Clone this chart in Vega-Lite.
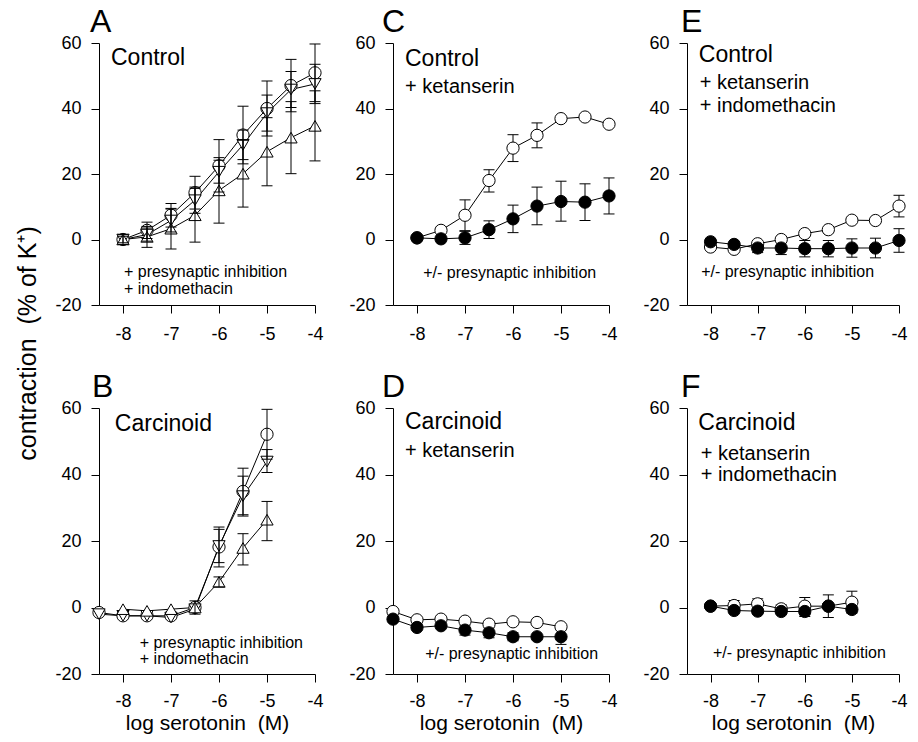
{
"$schema": "https://vega.github.io/schema/vega-lite/v6.json",
"background": "white",
"padding": {"left": 15, "top": 6, "right": 5, "bottom": 1},
"datasets": {
"pts": [
{"p":"A","s":"circle","x":-8,"y":0,"lo":-1.5,"hi":1.5},
{"p":"A","s":"circle","x":-7.5,"y":2.8,"lo":0.3,"hi":5.3},
{"p":"A","s":"circle","x":-7,"y":7.4,"lo":3.8,"hi":11},
{"p":"A","s":"circle","x":-6.5,"y":14.3,"lo":9.3,"hi":19.3},
{"p":"A","s":"circle","x":-6,"y":22.5,"lo":14.5,"hi":30.5},
{"p":"A","s":"circle","x":-5.5,"y":31.9,"lo":23.1,"hi":40.7},
{"p":"A","s":"circle","x":-5,"y":40,"lo":31.6,"hi":48.4},
{"p":"A","s":"circle","x":-4.5,"y":47,"lo":39,"hi":55},
{"p":"A","s":"circle","x":-4,"y":50.9,"lo":42.1,"hi":59.7},
{"p":"A","s":"down","x":-8,"y":0},
{"p":"A","s":"down","x":-7.5,"y":1.5,"lo":-0.5,"hi":3.5},
{"p":"A","s":"down","x":-7,"y":5.8,"lo":2.3,"hi":9.3},
{"p":"A","s":"down","x":-6.5,"y":12,"lo":8,"hi":16},
{"p":"A","s":"down","x":-6,"y":20.7,"lo":17.2,"hi":24.2},
{"p":"A","s":"down","x":-5.5,"y":28.9,"lo":24.4,"hi":33.4},
{"p":"A","s":"down","x":-5,"y":38.6,"lo":33.1,"hi":44.1},
{"p":"A","s":"down","x":-4.5,"y":45.8,"lo":40.3,"hi":51.3},
{"p":"A","s":"down","x":-4,"y":47.5,"lo":41.5,"hi":53.5},
{"p":"A","s":"up","x":-8,"y":0,"lo":-1,"hi":1},
{"p":"A","s":"up","x":-7.5,"y":0.8,"lo":-2.4,"hi":4},
{"p":"A","s":"up","x":-7,"y":3.3,"lo":-2.9,"hi":9.5},
{"p":"A","s":"up","x":-6.5,"y":7.4,"lo":-0.8,"hi":15.6},
{"p":"A","s":"up","x":-6,"y":15,"lo":5,"hi":25},
{"p":"A","s":"up","x":-5.5,"y":20.1,"lo":9.9,"hi":30.3},
{"p":"A","s":"up","x":-5,"y":26.8,"lo":16.4,"hi":37.2},
{"p":"A","s":"up","x":-4.5,"y":31.1,"lo":20.1,"hi":42.1},
{"p":"A","s":"up","x":-4,"y":34.7,"lo":24,"hi":45.4},
{"p":"B","s":"circle","x":-8.5,"y":-1.5},
{"p":"B","s":"circle","x":-8,"y":-2.5},
{"p":"B","s":"circle","x":-7.5,"y":-2.5},
{"p":"B","s":"circle","x":-7,"y":-2.5},
{"p":"B","s":"circle","x":-6.5,"y":0,"lo":-2,"hi":2},
{"p":"B","s":"circle","x":-6,"y":18.2,"lo":12.2,"hi":24.2},
{"p":"B","s":"circle","x":-5.5,"y":34.9,"lo":27.9,"hi":41.9},
{"p":"B","s":"circle","x":-5,"y":52.1,"lo":44.6,"hi":59.6},
{"p":"B","s":"down","x":-8.5,"y":-2},
{"p":"B","s":"down","x":-8,"y":-2.5},
{"p":"B","s":"down","x":-7.5,"y":-2.5},
{"p":"B","s":"down","x":-7,"y":-3},
{"p":"B","s":"down","x":-6.5,"y":-0.5},
{"p":"B","s":"down","x":-6,"y":18.5,"lo":13.5,"hi":23.5},
{"p":"B","s":"down","x":-5.5,"y":33.5,"lo":27.5,"hi":39.5},
{"p":"B","s":"down","x":-5,"y":43.9,"lo":40.6,"hi":47.5},
{"p":"B","s":"up","x":-8,"y":-0.5},
{"p":"B","s":"up","x":-7.5,"y":-1},
{"p":"B","s":"up","x":-7,"y":-0.5},
{"p":"B","s":"up","x":-6.5,"y":0},
{"p":"B","s":"up","x":-6,"y":7.7,"lo":6.2,"hi":9.2},
{"p":"B","s":"up","x":-5.5,"y":17.9,"lo":12.8,"hi":22.2},
{"p":"B","s":"up","x":-5,"y":26.4,"lo":20.1,"hi":31.9},
{"p":"C","s":"open","x":-8,"y":0.5},
{"p":"C","s":"open","x":-7.5,"y":2.8},
{"p":"C","s":"open","x":-7,"y":7.4,"lo":2.7,"hi":12.1},
{"p":"C","s":"open","x":-6.5,"y":18,"lo":14.5,"hi":21.3},
{"p":"C","s":"open","x":-6,"y":27.9,"lo":23.8,"hi":32},
{"p":"C","s":"open","x":-5.5,"y":31.8,"lo":28,"hi":35.6},
{"p":"C","s":"open","x":-5,"y":36.9},
{"p":"C","s":"open","x":-4.5,"y":37.4},
{"p":"C","s":"open","x":-4,"y":35.2},
{"p":"C","s":"filled","x":-8,"y":0.5},
{"p":"C","s":"filled","x":-7.5,"y":0.2},
{"p":"C","s":"filled","x":-7,"y":0.5,"lo":-1.5,"hi":2.5},
{"p":"C","s":"filled","x":-6.5,"y":3,"lo":0.3,"hi":5.7},
{"p":"C","s":"filled","x":-6,"y":6.3,"lo":2.1,"hi":10.5},
{"p":"C","s":"filled","x":-5.5,"y":10.2,"lo":4.5,"hi":16},
{"p":"C","s":"filled","x":-5,"y":11.6,"lo":5.6,"hi":17.8},
{"p":"C","s":"filled","x":-4.5,"y":11.4,"lo":5.8,"hi":17},
{"p":"C","s":"filled","x":-4,"y":13.3,"lo":7.8,"hi":18.8},
{"p":"D","s":"open","x":-8.5,"y":-1.2},
{"p":"D","s":"open","x":-8,"y":-3.7},
{"p":"D","s":"open","x":-7.5,"y":-3.5},
{"p":"D","s":"open","x":-7,"y":-4.1},
{"p":"D","s":"open","x":-6.5,"y":-5},
{"p":"D","s":"open","x":-6,"y":-4.3},
{"p":"D","s":"open","x":-5.5,"y":-4.5},
{"p":"D","s":"open","x":-5,"y":-5.8},
{"p":"D","s":"filled","x":-8.5,"y":-3.5},
{"p":"D","s":"filled","x":-8,"y":-6},
{"p":"D","s":"filled","x":-7.5,"y":-5.5},
{"p":"D","s":"filled","x":-7,"y":-6.8,"lo":-8.3,"hi":-5.3},
{"p":"D","s":"filled","x":-6.5,"y":-7.6,"lo":-9.1,"hi":-6.1},
{"p":"D","s":"filled","x":-6,"y":-8.8,"lo":-10,"hi":-7.6},
{"p":"D","s":"filled","x":-5.5,"y":-8.8},
{"p":"D","s":"filled","x":-5,"y":-8.8,"lo":-11.1,"hi":-6.5},
{"p":"E","s":"open","x":-8,"y":-2.3},
{"p":"E","s":"open","x":-7.5,"y":-3},
{"p":"E","s":"open","x":-7,"y":-1.3},
{"p":"E","s":"open","x":-6.5,"y":0},
{"p":"E","s":"open","x":-6,"y":1.8},
{"p":"E","s":"open","x":-5.5,"y":3},
{"p":"E","s":"open","x":-5,"y":5.9},
{"p":"E","s":"open","x":-4.5,"y":5.8},
{"p":"E","s":"open","x":-4,"y":10.2,"lo":6.9,"hi":13.5},
{"p":"E","s":"filled","x":-8,"y":-0.7},
{"p":"E","s":"filled","x":-7.5,"y":-1.5},
{"p":"E","s":"filled","x":-7,"y":-2.6,"lo":-4,"hi":-1.2},
{"p":"E","s":"filled","x":-6.5,"y":-2.6,"lo":-4.6,"hi":-0.6},
{"p":"E","s":"filled","x":-6,"y":-2.8,"lo":-5.3,"hi":-0.3},
{"p":"E","s":"filled","x":-5.5,"y":-2.8,"lo":-5.3,"hi":-0.3},
{"p":"E","s":"filled","x":-5,"y":-2.6,"lo":-5.4,"hi":0.2},
{"p":"E","s":"filled","x":-4.5,"y":-2.6,"lo":-5.6,"hi":0.4},
{"p":"E","s":"filled","x":-4,"y":-0.3,"lo":-3.9,"hi":3.3},
{"p":"F","s":"open","x":-8,"y":0.4},
{"p":"F","s":"open","x":-7.5,"y":0.6,"lo":-0.9,"hi":2.1},
{"p":"F","s":"open","x":-7,"y":1.1,"lo":-0.4,"hi":2.6},
{"p":"F","s":"open","x":-6.5,"y":-0.4,"lo":-1.6,"hi":0.8},
{"p":"F","s":"open","x":-6,"y":0.4,"lo":-2.2,"hi":3},
{"p":"F","s":"open","x":-5.5,"y":0.4},
{"p":"F","s":"open","x":-5,"y":1.6,"lo":-1.7,"hi":4.9},
{"p":"F","s":"filled","x":-8,"y":0.4},
{"p":"F","s":"filled","x":-7.5,"y":-0.9},
{"p":"F","s":"filled","x":-7,"y":-1.1},
{"p":"F","s":"filled","x":-6.5,"y":-1.2},
{"p":"F","s":"filled","x":-6,"y":-1.2,"lo":-2.7,"hi":0.3},
{"p":"F","s":"filled","x":-5.5,"y":0.4,"lo":-3,"hi":3.8},
{"p":"F","s":"filled","x":-5,"y":-0.6}
],
"ann": [
{"p":"A","k":"head","x":-8.25,"y":53.3,"t":"Control"},
{"p":"A","k":"note","x":-7.98,"y":-11.4,"t":"+ presynaptic inhibition"},
{"p":"A","k":"note","x":-7.98,"y":-16.6,"t":"+ indomethacin"},
{"p":"B","k":"head","x":-8.17,"y":53.1,"t":"Carcinoid"},
{"p":"B","k":"note","x":-7.65,"y":-12.2,"t":"+ presynaptic inhibition"},
{"p":"B","k":"note","x":-7.65,"y":-17,"t":"+ indomethacin"},
{"p":"C","k":"head","x":-8.25,"y":53,"t":"Control"},
{"p":"C","k":"sub","x":-8.25,"y":44.8,"t":"+ ketanserin"},
{"p":"C","k":"note","x":-7.87,"y":-11.8,"t":"+/- presynaptic inhibition"},
{"p":"D","k":"head","x":-8.25,"y":53.7,"t":"Carcinoid"},
{"p":"D","k":"sub","x":-8.25,"y":45.2,"t":"+ ketanserin"},
{"p":"D","k":"note","x":-7.83,"y":-15.5,"t":"+/- presynaptic inhibition"},
{"p":"E","k":"head","x":-8.25,"y":54.3,"t":"Control"},
{"p":"E","k":"sub","x":-8.23,"y":46,"t":"+ ketanserin"},
{"p":"E","k":"sub","x":-8.23,"y":39,"t":"+ indomethacin"},
{"p":"E","k":"note","x":-8.2,"y":-11.3,"t":"+/- presynaptic inhibition"},
{"p":"F","k":"head","x":-8.26,"y":53.4,"t":"Carcinoid"},
{"p":"F","k":"sub","x":-8.21,"y":44.4,"t":"+ ketanserin"},
{"p":"F","k":"sub","x":-8.21,"y":37.9,"t":"+ indomethacin"},
{"p":"F","k":"note","x":-7.95,"y":-15.3,"t":"+/- presynaptic inhibition"}
]
},
"columns": 3,
"spacing": {"row": 103, "column": 78},
"bounds": "flush",
"concat": [
{
"width": 216, "height": 262,
"title": {"text": "A", "dx": -9},
"encoding": {
"x": {"field":"x","type":"quantitative","scale":{"domain":[-8.5,-4],"nice":false,"zero":false},"axis":{"values":[-8,-7,-6,-5,-4],"labelExpr":"'' + datum.value","title":null,"labelPadding":12}},
"y": {"field":"y","type":"quantitative","scale":{"domain":[-20,60],"nice":false,"zero":false},"axis":{"values":[-20,0,20,40,60],"labelExpr":"'' + datum.value","title":"contraction \u00a0(% of K\u207a)","titleX":-64,"titleY":300,"titleAlign":"center","titleBaseline":"alphabetic","titleAngle":270}}
},
"layer": [
{"data":{"name":"pts"},"transform":[{"filter":"datum.p === 'A'"}],"mark":{"type":"line","color":"black","strokeWidth":1},"encoding":{"detail":{"field":"s"}}},
{"data":{"name":"pts"},"transform":[{"filter":"datum.p === 'A'"}],"mark":{"type":"point","filled":true,"size":150,"stroke":"black","strokeWidth":1,"opacity":1},"encoding":{"shape":{"field":"s","scale":{"domain":["circle","down","up","open","filled"],"range":["circle","triangle-down","triangle-up","circle","circle"]},"legend":null},"fill":{"field":"s","scale":{"domain":["circle","down","up","open","filled"],"range":["white","white","white","white","black"]},"legend":null}}},
{"data":{"name":"pts"},"transform":[{"filter":"datum.p === 'A' && isValid(datum.lo)"}],"mark":{"type":"rule","color":"black","strokeWidth":1},"encoding":{"y":{"field":"lo","type":"quantitative","axis":{"values":[-20,0,20,40,60],"labelExpr":"'' + datum.value","title":"contraction \u00a0(% of K\u207a)","titleX":-64,"titleY":300,"titleAlign":"center","titleBaseline":"alphabetic","titleAngle":270}},"y2":{"field":"hi"}}},
{"data":{"name":"pts"},"transform":[{"filter":"datum.p === 'A' && isValid(datum.lo)"}],"mark":{"type":"tick","orient":"horizontal","size":11,"thickness":1,"color":"black","opacity":1},"encoding":{"y":{"field":"hi","type":"quantitative","axis":{"values":[-20,0,20,40,60],"labelExpr":"'' + datum.value","title":"contraction \u00a0(% of K\u207a)","titleX":-64,"titleY":300,"titleAlign":"center","titleBaseline":"alphabetic","titleAngle":270}}}},
{"data":{"name":"pts"},"transform":[{"filter":"datum.p === 'A' && isValid(datum.lo)"}],"mark":{"type":"tick","orient":"horizontal","size":11,"thickness":1,"color":"black","opacity":1},"encoding":{"y":{"field":"lo","type":"quantitative","axis":{"values":[-20,0,20,40,60],"labelExpr":"'' + datum.value","title":"contraction \u00a0(% of K\u207a)","titleX":-64,"titleY":300,"titleAlign":"center","titleBaseline":"alphabetic","titleAngle":270}}}},
{"data":{"name":"ann"},"transform":[{"filter":"datum.p === 'A' && datum.k === 'head'"}],"mark":{"type":"text","align":"left","baseline":"alphabetic","fontSize":23,"color":"black"},"encoding":{"text":{"field":"t"}}},
{"data":{"name":"ann"},"transform":[{"filter":"datum.p === 'A' && datum.k === 'note'"}],"mark":{"type":"text","align":"left","baseline":"alphabetic","fontSize":16,"color":"black"},"encoding":{"text":{"field":"t"}}}
]
},
{
"width": 216, "height": 262,
"title": {"text": "C", "dx": -11},
"encoding": {
"x": {"field":"x","type":"quantitative","scale":{"domain":[-8.5,-4],"nice":false,"zero":false},"axis":{"values":[-8,-7,-6,-5,-4],"labelExpr":"'' + datum.value","title":null,"labelPadding":12}},
"y": {"field":"y","type":"quantitative","scale":{"domain":[-20,60],"nice":false,"zero":false},"axis":{"values":[-20,0,20,40,60],"labelExpr":"'' + datum.value","title":null}}
},
"layer": [
{"data":{"name":"pts"},"transform":[{"filter":"datum.p === 'C'"}],"mark":{"type":"line","color":"black","strokeWidth":1},"encoding":{"detail":{"field":"s"}}},
{"data":{"name":"pts"},"transform":[{"filter":"datum.p === 'C' && isValid(datum.lo)"}],"mark":{"type":"rule","color":"black","strokeWidth":1},"encoding":{"y":{"field":"lo","type":"quantitative","axis":{"values":[-20,0,20,40,60],"labelExpr":"'' + datum.value","title":null}},"y2":{"field":"hi"}}},
{"data":{"name":"pts"},"transform":[{"filter":"datum.p === 'C' && isValid(datum.lo)"}],"mark":{"type":"tick","orient":"horizontal","size":11,"thickness":1,"color":"black","opacity":1},"encoding":{"y":{"field":"hi","type":"quantitative","axis":{"values":[-20,0,20,40,60],"labelExpr":"'' + datum.value","title":null}}}},
{"data":{"name":"pts"},"transform":[{"filter":"datum.p === 'C' && isValid(datum.lo)"}],"mark":{"type":"tick","orient":"horizontal","size":11,"thickness":1,"color":"black","opacity":1},"encoding":{"y":{"field":"lo","type":"quantitative","axis":{"values":[-20,0,20,40,60],"labelExpr":"'' + datum.value","title":null}}}},
{"data":{"name":"pts"},"transform":[{"filter":"datum.p === 'C'"}],"mark":{"type":"point","filled":true,"size":150,"stroke":"black","strokeWidth":1,"opacity":1},"encoding":{"shape":{"field":"s","scale":{"domain":["circle","down","up","open","filled"],"range":["circle","triangle-down","triangle-up","circle","circle"]},"legend":null},"fill":{"field":"s","scale":{"domain":["circle","down","up","open","filled"],"range":["white","white","white","white","black"]},"legend":null}}},
{"data":{"name":"ann"},"transform":[{"filter":"datum.p === 'C' && datum.k === 'head'"}],"mark":{"type":"text","align":"left","baseline":"alphabetic","fontSize":23,"color":"black"},"encoding":{"text":{"field":"t"}}},
{"data":{"name":"ann"},"transform":[{"filter":"datum.p === 'C' && datum.k === 'sub'"}],"mark":{"type":"text","align":"left","baseline":"alphabetic","fontSize":20,"color":"black"},"encoding":{"text":{"field":"t"}}},
{"data":{"name":"ann"},"transform":[{"filter":"datum.p === 'C' && datum.k === 'note'"}],"mark":{"type":"text","align":"left","baseline":"alphabetic","fontSize":16,"color":"black"},"encoding":{"text":{"field":"t"}}}
]
},
{
"width": 212, "height": 262,
"title": {"text": "E", "dx": -6},
"encoding": {
"x": {"field":"x","type":"quantitative","scale":{"domain":[-8.5,-4],"nice":false,"zero":false},"axis":{"values":[-8,-7,-6,-5,-4],"labelExpr":"'' + datum.value","title":null,"labelPadding":12}},
"y": {"field":"y","type":"quantitative","scale":{"domain":[-20,60],"nice":false,"zero":false},"axis":{"values":[-20,0,20,40,60],"labelExpr":"'' + datum.value","title":null}}
},
"layer": [
{"data":{"name":"pts"},"transform":[{"filter":"datum.p === 'E'"}],"mark":{"type":"line","color":"black","strokeWidth":1},"encoding":{"detail":{"field":"s"}}},
{"data":{"name":"pts"},"transform":[{"filter":"datum.p === 'E' && isValid(datum.lo)"}],"mark":{"type":"rule","color":"black","strokeWidth":1},"encoding":{"y":{"field":"lo","type":"quantitative","axis":{"values":[-20,0,20,40,60],"labelExpr":"'' + datum.value","title":null}},"y2":{"field":"hi"}}},
{"data":{"name":"pts"},"transform":[{"filter":"datum.p === 'E' && isValid(datum.lo)"}],"mark":{"type":"tick","orient":"horizontal","size":11,"thickness":1,"color":"black","opacity":1},"encoding":{"y":{"field":"hi","type":"quantitative","axis":{"values":[-20,0,20,40,60],"labelExpr":"'' + datum.value","title":null}}}},
{"data":{"name":"pts"},"transform":[{"filter":"datum.p === 'E' && isValid(datum.lo)"}],"mark":{"type":"tick","orient":"horizontal","size":11,"thickness":1,"color":"black","opacity":1},"encoding":{"y":{"field":"lo","type":"quantitative","axis":{"values":[-20,0,20,40,60],"labelExpr":"'' + datum.value","title":null}}}},
{"data":{"name":"pts"},"transform":[{"filter":"datum.p === 'E'"}],"mark":{"type":"point","filled":true,"size":150,"stroke":"black","strokeWidth":1,"opacity":1},"encoding":{"shape":{"field":"s","scale":{"domain":["circle","down","up","open","filled"],"range":["circle","triangle-down","triangle-up","circle","circle"]},"legend":null},"fill":{"field":"s","scale":{"domain":["circle","down","up","open","filled"],"range":["white","white","white","white","black"]},"legend":null}}},
{"data":{"name":"ann"},"transform":[{"filter":"datum.p === 'E' && datum.k === 'head'"}],"mark":{"type":"text","align":"left","baseline":"alphabetic","fontSize":23,"color":"black"},"encoding":{"text":{"field":"t"}}},
{"data":{"name":"ann"},"transform":[{"filter":"datum.p === 'E' && datum.k === 'sub'"}],"mark":{"type":"text","align":"left","baseline":"alphabetic","fontSize":20,"color":"black"},"encoding":{"text":{"field":"t"}}},
{"data":{"name":"ann"},"transform":[{"filter":"datum.p === 'E' && datum.k === 'note'"}],"mark":{"type":"text","align":"left","baseline":"alphabetic","fontSize":16,"color":"black"},"encoding":{"text":{"field":"t"}}}
]
},
{
"width": 216, "height": 266,
"title": {"text": "B", "dx": -7},
"encoding": {
"x": {"field":"x","type":"quantitative","scale":{"domain":[-8.5,-4],"nice":false,"zero":false},"axis":{"values":[-8,-7,-6,-5,-4],"labelExpr":"'' + datum.value","title":"log serotonin \u00a0(M)","labelPadding":10}},
"y": {"field":"y","type":"quantitative","scale":{"domain":[-20,60],"nice":false,"zero":false},"axis":{"values":[-20,0,20,40,60],"labelExpr":"'' + datum.value","title":null}}
},
"layer": [
{"data":{"name":"pts"},"transform":[{"filter":"datum.p === 'B'"}],"mark":{"type":"line","color":"black","strokeWidth":1},"encoding":{"detail":{"field":"s"}}},
{"data":{"name":"pts"},"transform":[{"filter":"datum.p === 'B'"}],"mark":{"type":"point","filled":true,"size":150,"stroke":"black","strokeWidth":1,"opacity":1},"encoding":{"shape":{"field":"s","scale":{"domain":["circle","down","up","open","filled"],"range":["circle","triangle-down","triangle-up","circle","circle"]},"legend":null},"fill":{"field":"s","scale":{"domain":["circle","down","up","open","filled"],"range":["white","white","white","white","black"]},"legend":null}}},
{"data":{"name":"pts"},"transform":[{"filter":"datum.p === 'B' && isValid(datum.lo)"}],"mark":{"type":"rule","color":"black","strokeWidth":1},"encoding":{"y":{"field":"lo","type":"quantitative","axis":{"values":[-20,0,20,40,60],"labelExpr":"'' + datum.value","title":null}},"y2":{"field":"hi"}}},
{"data":{"name":"pts"},"transform":[{"filter":"datum.p === 'B' && isValid(datum.lo)"}],"mark":{"type":"tick","orient":"horizontal","size":11,"thickness":1,"color":"black","opacity":1},"encoding":{"y":{"field":"hi","type":"quantitative","axis":{"values":[-20,0,20,40,60],"labelExpr":"'' + datum.value","title":null}}}},
{"data":{"name":"pts"},"transform":[{"filter":"datum.p === 'B' && isValid(datum.lo)"}],"mark":{"type":"tick","orient":"horizontal","size":11,"thickness":1,"color":"black","opacity":1},"encoding":{"y":{"field":"lo","type":"quantitative","axis":{"values":[-20,0,20,40,60],"labelExpr":"'' + datum.value","title":null}}}},
{"data":{"name":"ann"},"transform":[{"filter":"datum.p === 'B' && datum.k === 'head'"}],"mark":{"type":"text","align":"left","baseline":"alphabetic","fontSize":23,"color":"black"},"encoding":{"text":{"field":"t"}}},
{"data":{"name":"ann"},"transform":[{"filter":"datum.p === 'B' && datum.k === 'note'"}],"mark":{"type":"text","align":"left","baseline":"alphabetic","fontSize":16,"color":"black"},"encoding":{"text":{"field":"t"}}}
]
},
{
"width": 216, "height": 266,
"title": {"text": "D", "dx": -11},
"encoding": {
"x": {"field":"x","type":"quantitative","scale":{"domain":[-8.5,-4],"nice":false,"zero":false},"axis":{"values":[-8,-7,-6,-5,-4],"labelExpr":"'' + datum.value","title":"log serotonin \u00a0(M)","labelPadding":10}},
"y": {"field":"y","type":"quantitative","scale":{"domain":[-20,60],"nice":false,"zero":false},"axis":{"values":[-20,0,20,40,60],"labelExpr":"'' + datum.value","title":null}}
},
"layer": [
{"data":{"name":"pts"},"transform":[{"filter":"datum.p === 'D'"}],"mark":{"type":"line","color":"black","strokeWidth":1},"encoding":{"detail":{"field":"s"}}},
{"data":{"name":"pts"},"transform":[{"filter":"datum.p === 'D' && isValid(datum.lo)"}],"mark":{"type":"rule","color":"black","strokeWidth":1},"encoding":{"y":{"field":"lo","type":"quantitative","axis":{"values":[-20,0,20,40,60],"labelExpr":"'' + datum.value","title":null}},"y2":{"field":"hi"}}},
{"data":{"name":"pts"},"transform":[{"filter":"datum.p === 'D' && isValid(datum.lo)"}],"mark":{"type":"tick","orient":"horizontal","size":11,"thickness":1,"color":"black","opacity":1},"encoding":{"y":{"field":"hi","type":"quantitative","axis":{"values":[-20,0,20,40,60],"labelExpr":"'' + datum.value","title":null}}}},
{"data":{"name":"pts"},"transform":[{"filter":"datum.p === 'D' && isValid(datum.lo)"}],"mark":{"type":"tick","orient":"horizontal","size":11,"thickness":1,"color":"black","opacity":1},"encoding":{"y":{"field":"lo","type":"quantitative","axis":{"values":[-20,0,20,40,60],"labelExpr":"'' + datum.value","title":null}}}},
{"data":{"name":"pts"},"transform":[{"filter":"datum.p === 'D'"}],"mark":{"type":"point","filled":true,"size":150,"stroke":"black","strokeWidth":1,"opacity":1},"encoding":{"shape":{"field":"s","scale":{"domain":["circle","down","up","open","filled"],"range":["circle","triangle-down","triangle-up","circle","circle"]},"legend":null},"fill":{"field":"s","scale":{"domain":["circle","down","up","open","filled"],"range":["white","white","white","white","black"]},"legend":null}}},
{"data":{"name":"ann"},"transform":[{"filter":"datum.p === 'D' && datum.k === 'head'"}],"mark":{"type":"text","align":"left","baseline":"alphabetic","fontSize":23,"color":"black"},"encoding":{"text":{"field":"t"}}},
{"data":{"name":"ann"},"transform":[{"filter":"datum.p === 'D' && datum.k === 'sub'"}],"mark":{"type":"text","align":"left","baseline":"alphabetic","fontSize":20,"color":"black"},"encoding":{"text":{"field":"t"}}},
{"data":{"name":"ann"},"transform":[{"filter":"datum.p === 'D' && datum.k === 'note'"}],"mark":{"type":"text","align":"left","baseline":"alphabetic","fontSize":16,"color":"black"},"encoding":{"text":{"field":"t"}}}
]
},
{
"width": 212, "height": 266,
"title": {"text": "F", "dx": -6},
"encoding": {
"x": {"field":"x","type":"quantitative","scale":{"domain":[-8.5,-4],"nice":false,"zero":false},"axis":{"values":[-8,-7,-6,-5,-4],"labelExpr":"'' + datum.value","title":"log serotonin \u00a0(M)","labelPadding":10}},
"y": {"field":"y","type":"quantitative","scale":{"domain":[-20,60],"nice":false,"zero":false},"axis":{"values":[-20,0,20,40,60],"labelExpr":"'' + datum.value","title":null}}
},
"layer": [
{"data":{"name":"pts"},"transform":[{"filter":"datum.p === 'F'"}],"mark":{"type":"line","color":"black","strokeWidth":1},"encoding":{"detail":{"field":"s"}}},
{"data":{"name":"pts"},"transform":[{"filter":"datum.p === 'F' && isValid(datum.lo)"}],"mark":{"type":"rule","color":"black","strokeWidth":1},"encoding":{"y":{"field":"lo","type":"quantitative","axis":{"values":[-20,0,20,40,60],"labelExpr":"'' + datum.value","title":null}},"y2":{"field":"hi"}}},
{"data":{"name":"pts"},"transform":[{"filter":"datum.p === 'F' && isValid(datum.lo)"}],"mark":{"type":"tick","orient":"horizontal","size":11,"thickness":1,"color":"black","opacity":1},"encoding":{"y":{"field":"hi","type":"quantitative","axis":{"values":[-20,0,20,40,60],"labelExpr":"'' + datum.value","title":null}}}},
{"data":{"name":"pts"},"transform":[{"filter":"datum.p === 'F' && isValid(datum.lo)"}],"mark":{"type":"tick","orient":"horizontal","size":11,"thickness":1,"color":"black","opacity":1},"encoding":{"y":{"field":"lo","type":"quantitative","axis":{"values":[-20,0,20,40,60],"labelExpr":"'' + datum.value","title":null}}}},
{"data":{"name":"pts"},"transform":[{"filter":"datum.p === 'F'"}],"mark":{"type":"point","filled":true,"size":150,"stroke":"black","strokeWidth":1,"opacity":1},"encoding":{"shape":{"field":"s","scale":{"domain":["circle","down","up","open","filled"],"range":["circle","triangle-down","triangle-up","circle","circle"]},"legend":null},"fill":{"field":"s","scale":{"domain":["circle","down","up","open","filled"],"range":["white","white","white","white","black"]},"legend":null}}},
{"data":{"name":"ann"},"transform":[{"filter":"datum.p === 'F' && datum.k === 'head'"}],"mark":{"type":"text","align":"left","baseline":"alphabetic","fontSize":23,"color":"black"},"encoding":{"text":{"field":"t"}}},
{"data":{"name":"ann"},"transform":[{"filter":"datum.p === 'F' && datum.k === 'sub'"}],"mark":{"type":"text","align":"left","baseline":"alphabetic","fontSize":20,"color":"black"},"encoding":{"text":{"field":"t"}}},
{"data":{"name":"ann"},"transform":[{"filter":"datum.p === 'F' && datum.k === 'note'"}],"mark":{"type":"text","align":"left","baseline":"alphabetic","fontSize":16,"color":"black"},"encoding":{"text":{"field":"t"}}}
]
}
],
"config": {
"view": {"stroke": null},
"font": "Liberation Sans",
"text": {"font": "Liberation Sans"},
"axis": {"grid": false, "domainColor": "black", "domainWidth": 1, "tickColor": "black", "tickWidth": 1, "tickSize": 8, "labelColor": "black", "labelFontSize": 18, "labelFont": "Liberation Sans", "labelPadding": 10, "labelFlush": false, "labelOverlap": false, "titleColor": "black", "titleFont": "Liberation Sans", "titleFontSize": 21, "titleFontWeight": "normal", "titlePadding": 2},
"axisY": {"titleFontSize": 25},
"title": {"fontSize": 32, "fontWeight": "normal", "anchor": "start", "frame": "group", "color": "black", "font": "Liberation Sans", "offset": -5}
}
}
